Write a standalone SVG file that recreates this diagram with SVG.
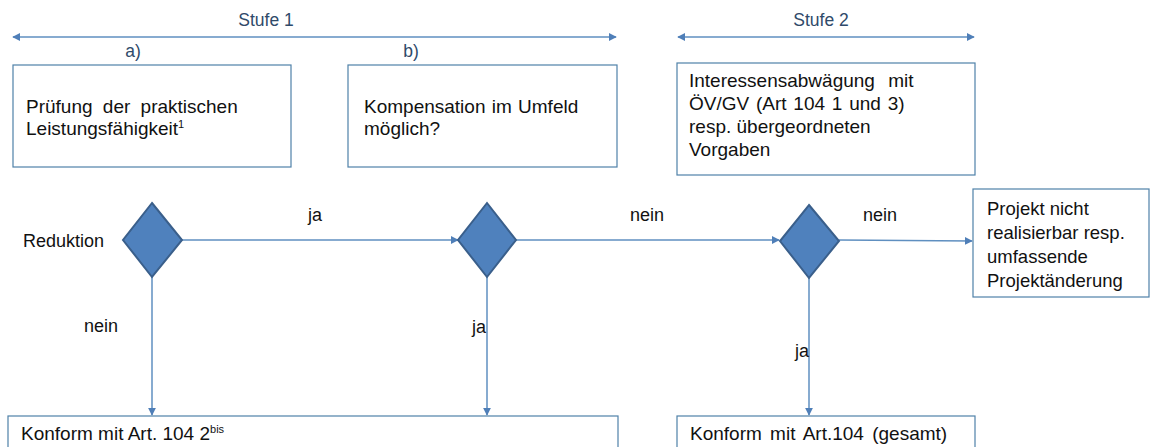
<svg xmlns="http://www.w3.org/2000/svg" width="1152" height="447" viewBox="0 0 1152 447">
<style>
.box{fill:#ffffff;stroke:#4f81a8;stroke-width:1.2}
.t{font-family:"Liberation Sans",Arial,sans-serif;font-size:19px;fill:#111}
.t4{font-family:"Liberation Sans",Arial,sans-serif;font-size:18.5px;fill:#111}
.l{font-family:"Liberation Sans",Arial,sans-serif;font-size:18px;fill:#111}
.h{font-family:"Liberation Sans",Arial,sans-serif;font-size:17.5px;fill:#2f4a6a}
.ln{fill:none;stroke:#5f8fc0;stroke-width:1.5}
.dia{fill:#4f81bd;stroke:#3a5f8b;stroke-width:2}
</style>
<defs>
<marker id="ah" viewBox="0 0 10 10" refX="9" refY="5" markerWidth="8" markerHeight="8" orient="auto-start-reverse" markerUnits="userSpaceOnUse">
<path d="M0,0 L10,5 L0,10 z" fill="#4f7fb8"/>
</marker>
</defs>
<g id="headers">
<text class="h" x="266" y="26" text-anchor="middle">Stufe 1</text>
<text class="h" x="821" y="26" text-anchor="middle">Stufe 2</text>
<text class="h" x="133" y="57" text-anchor="middle">a)</text>
<text class="h" x="411" y="57" text-anchor="middle">b)</text>
</g>
<g id="connectors">
<line class="ln" x1="13" y1="37" x2="616" y2="37" marker-start="url(#ah)" marker-end="url(#ah)"/>
<line class="ln" x1="678" y1="37" x2="974" y2="37" marker-start="url(#ah)" marker-end="url(#ah)"/>
<line class="ln" x1="182" y1="240" x2="458" y2="240" marker-end="url(#ah)"/>
<line class="ln" x1="516" y1="240" x2="779" y2="240" marker-end="url(#ah)"/>
<line class="ln" x1="839" y1="240" x2="972" y2="241" marker-end="url(#ah)"/>
<line class="ln" x1="152" y1="277" x2="152" y2="415" marker-end="url(#ah)"/>
<line class="ln" x1="487" y1="277" x2="487" y2="415" marker-end="url(#ah)"/>
<line class="ln" x1="809" y1="277" x2="809" y2="415" marker-end="url(#ah)"/>
<text class="l" x="315" y="221" text-anchor="middle">ja</text>
<text class="l" x="647" y="221" text-anchor="middle">nein</text>
<text class="l" x="880" y="221" text-anchor="middle">nein</text>
<text class="l" x="101" y="332" text-anchor="middle">nein</text>
<text class="l" x="479" y="333" text-anchor="middle">ja</text>
<text class="l" x="802" y="357" text-anchor="middle">ja</text>
</g>
<g id="box-a">
<rect class="box" x="13" y="65" width="278" height="102"/>
<text class="t" x="26" y="113" word-spacing="5">Prüfung der praktischen</text>
<text class="t" x="26" y="135">Leistungsfähigkeit<tspan font-size="11" dy="-7">1</tspan></text>
</g>
<g id="box-b">
<rect class="box" x="348" y="65" width="269" height="102"/>
<text class="t" x="364" y="113" word-spacing="1">Kompensation im Umfeld</text>
<text class="t" x="364" y="135">möglich?</text>
</g>
<g id="box-stufe2">
<rect class="box" x="677" y="63" width="298" height="112"/>
<text class="t" x="689" y="87" word-spacing="8">Interessensabwägung mit</text>
<text class="t" x="689" y="110" word-spacing="1.5">ÖV/GV (Art 104 1 und 3)</text>
<text class="t" x="689" y="133">resp. übergeordneten</text>
<text class="t" x="689" y="156">Vorgaben</text>
</g>
<g id="dec1">
<polygon class="dia" points="152,203 182,240 152,277 123,240"/>
<text class="l" x="23" y="247">Reduktion</text>
</g>
<g id="dec2">
<polygon class="dia" points="487,203 516,240 487,277 458,240"/>
</g>
<g id="dec3">
<polygon class="dia" points="809,205 839,241 809,278 780,241"/>
</g>
<g id="box-nicht">
<rect class="box" x="973" y="189" width="176" height="108"/>
<text class="t4" x="987" y="215">Projekt nicht</text>
<text class="t4" x="987" y="239">realisierbar resp.</text>
<text class="t4" x="987" y="263">umfassende</text>
<text class="t4" x="987" y="287">Projektänderung</text>
</g>
<g id="box-konform1">
<rect class="box" x="8" y="416" width="610" height="40"/>
<text class="t" x="21" y="440">Konform mit Art. 104 2<tspan font-size="11" dy="-7">bis</tspan></text>
</g>
<g id="box-konform2">
<rect class="box" x="677" y="416" width="298" height="40"/>
<text class="t" x="690" y="440" word-spacing="3">Konform mit Art.104 (gesamt)</text>
</g>
</svg>
